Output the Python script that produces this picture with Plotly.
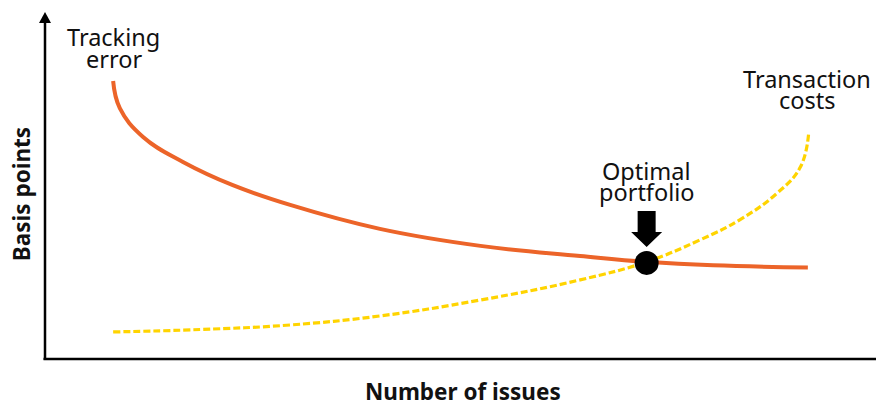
import plotly.graph_objects as go

# ---- data (abstract units: x 0-100 = number of issues, y 0-100 = basis points) ----
tracking_x = [8.2, 9.0, 11.8, 16.6, 22.6, 29.5, 40.3, 52.4, 64.4, 72.4, 80.4, 91.8]
tracking_y = [80.1, 72.3, 64.0, 56.8, 50.1, 44.4, 37.5, 32.6, 29.7, 28.0, 27.0, 26.4]

costs_x = [8.2, 18.7, 29.5, 40.3, 52.4, 64.4, 72.4, 78.8, 83.6, 88.1, 90.9, 91.9]
costs_y = [7.8, 8.5, 9.8, 12.4, 17.0, 22.8, 28.0, 34.3, 40.1, 47.8, 55.3, 65.1]

optimal_x = [72.4]
optimal_y = [27.7]

x_title = "Number of issues"
y_title = "Basis points"
label_tracking = ["Tracking", "error"]
label_costs = ["Transaction", "costs"]
label_optimal = ["Optimal", "portfolio"]

ORANGE = "#EC6429"
YELLOW = "#FFD400"
FONT = "Noto Sans"

fig = go.Figure()
fig.add_trace(go.Scatter(x=costs_x, y=costs_y, mode="lines",
                         line=dict(color=YELLOW, width=3.2, dash="7px,3px", shape="spline", smoothing=1.2),
                         hoverinfo="skip"))
fig.add_trace(go.Scatter(x=tracking_x, y=tracking_y, mode="lines",
                         line=dict(color=ORANGE, width=4, shape="spline", smoothing=1.2),
                         hoverinfo="skip"))
fig.add_trace(go.Scatter(x=optimal_x, y=optimal_y, mode="markers",
                         marker=dict(color="black", size=24), hoverinfo="skip"))

# axis lines
fig.add_shape(type="line", xref="paper", yref="paper", x0=-0.0018, x1=1, y0=0, y1=0,
              line=dict(color="black", width=2.5))
fig.add_shape(type="line", xref="paper", yref="paper", x0=0, x1=0, y0=-0.003, y1=0.975,
              line=dict(color="black", width=2.5))
# y-axis arrowhead
fig.add_shape(type="path", xref="paper", yref="paper", xsizemode="pixel", ysizemode="pixel",
              xanchor=0, yanchor=1, path="M 0,0 L 6,-11 L -6,-11 Z",
              fillcolor="black", line=dict(width=0))
# arrow pointing at optimal portfolio
fig.add_shape(type="path", xref="x", yref="y", xsizemode="pixel", ysizemode="pixel",
              xanchor=optimal_x[0], yanchor=optimal_y[0],
              path="M -9,52 L 9,52 L 9,31 L 15.5,31 L 0,16 L -15.5,31 L -9,31 Z",
              fillcolor="black", line=dict(width=0))

def label(text, x, y, size=23.5, bold=False, angle=0):
    fig.add_annotation(text=f"<b>{text}</b>" if bold else text, xref="paper", yref="paper",
                       x=x, y=y, xanchor="center", yanchor="middle", showarrow=False,
                       textangle=angle, font=dict(family=FONT, size=size, color="#111111"))

label(label_tracking[0], 0.0830, 0.928)
label(label_tracking[1], 0.0830, 0.8647)
label(label_costs[0], 0.917, 0.806)
label(label_costs[1], 0.917, 0.7455)
label(label_optimal[0], 0.7244, 0.541)
label(label_optimal[1], 0.7244, 0.480)
label(x_title, 0.503, -0.094, size=22.5, bold=True)
label(y_title, -0.0289, 0.475, size=22.5, bold=True, angle=-90)

fig.update_xaxes(range=[0, 100], visible=False)
fig.update_yaxes(range=[0, 100], visible=False)
fig.update_layout(width=876, height=405, margin=dict(l=45, r=0, t=12, b=46),
                  plot_bgcolor="white", paper_bgcolor="white", showlegend=False)

fig.write_html("out.html")
